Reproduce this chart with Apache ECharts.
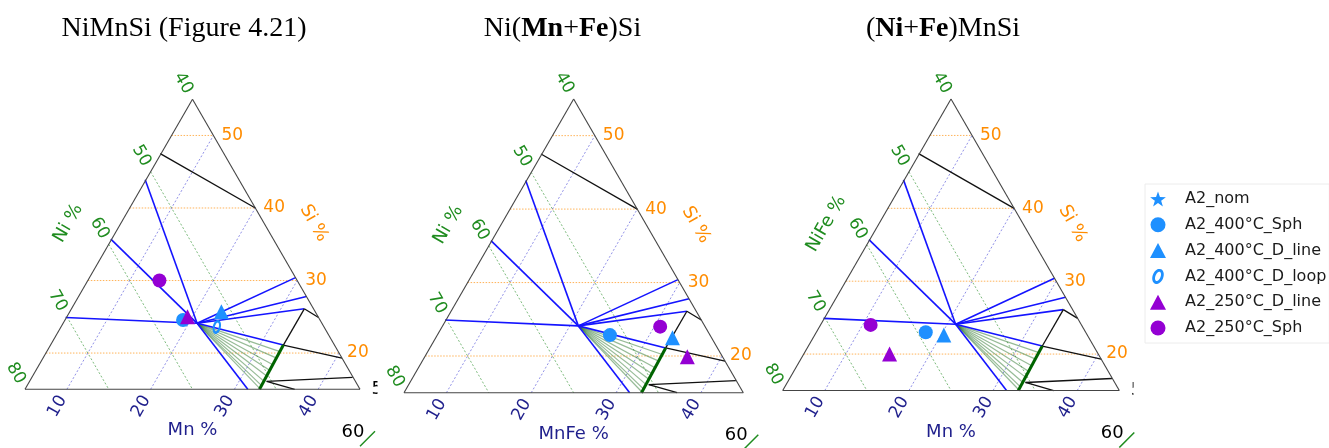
<!DOCTYPE html>
<html><head><meta charset="utf-8">
<script src="https://cdn.jsdelivr.net/npm/echarts@6/dist/echarts.min.js"></script>
<style>html,body{margin:0;padding:0;background:#fff}#c{width:1329px;height:448px}</style>
</head><body><div id="c"></div>
<script>
// ---------------- data (compositions given as [Mn, Si] at.%, Ni = 100 - Mn - Si) ----------------
const LEFT_AXIS_NAMES = ['Ni %', 'Ni %', 'NiFe %'];
const BOTTOM_AXIS_NAMES = ['Mn %', 'MnFe %', 'Mn %'];
const RIGHT_AXIS_NAME = 'Si %';
const SI_TICKS = [20, 30, 40, 50];
const NI_TICKS = [40, 50, 60, 70, 80];
const MN_TICKS = [10, 20, 30, 40];
const SERIES_NAMES = ['A2_nom', 'A2_400°C_Sph', 'A2_400°C_D_line', 'A2_400°C_D_loop', 'A2_250°C_D_line', 'A2_250°C_Sph'];

const HUB = [21.0, 24.1];
const BLUE_TIE_ENDS = [[4.9, 24.9], [4.9, 35.7], [4.9, 43.9], [31.6, 15.0], [29.6, 30.4], [32.2, 27.8], [32.8, 26.1], [32.8, 21.1]];
const FAN_ENDS = [[32.85, 20.2], [32.9, 19.3], [32.9, 18.4], [32.95, 17.6], [33.0, 16.8], [33.0, 16.1], [33.0, 15.5], [33.0, 15.1]];
const BLACK_LINES = [
  [[4.9, 47.5], [20.0, 40.0]],
  [[32.8, 26.1], [35.1, 24.9]],
  [[32.8, 26.1], [32.8, 21.1]],
  [[32.8, 21.1], [40.7, 19.3]],
  [[33.3, 16.1], [43.3, 16.65]],
  [[33.3, 16.1], [37.2, 15.0]]
];
const GREEN_BOUNDARY = [[32.8, 21.1], [33.0, 15.0]];

// markers per panel: [panel0, panel1, panel2]
const A2_NOM = [[], [], []];
const A2_400_SPH = [[[19.1, 24.55]], [[25.35, 22.85]], [[18.0, 23.0]]];
const A2_400_DLINE = [[[23.1, 25.7]], [[32.9, 22.5]], [[20.35, 22.6]]];
const A2_400_DLOOP = [[[23.6, 23.6]], [], []];
const A2_250_DLINE = [[[19.4, 25.0]], [[35.95, 19.9]], [[15.2, 20.0]]];
const A2_250_SPH = [[[13.55, 30.0]], [[30.7, 24.0]], [[10.95, 24.0]]];

// ---------------- layout / helpers ----------------
const H = Math.sqrt(3) / 2;
const xy = c => [c[0] + c[1] / 2, c[1] * H];
const PANELS = [
  { left: 25, top: 99.2, width: 335, titleX: 184 },
  { left: 404, top: 98.9, width: 339.3, titleX: 562.5 },
  { left: 782.7, top: 99.0, width: 336.6, titleX: 943 }
];
const STY = {
  si: { stroke: 'rgba(255,140,0,0.65)', lineWidth: 1, lineDash: [1.5, 1.5] },
  ni: { stroke: 'rgba(34,139,34,0.65)', lineWidth: 0.9, lineDash: [2, 2] },
  mn: { stroke: 'rgba(50,50,210,0.6)', lineWidth: 0.9, lineDash: [2, 2] },
  fan: { stroke: 'rgba(46,120,46,0.5)', lineWidth: 1.2 },
  tie: { stroke: '#1414ff', lineWidth: 1.6 },
  black: { stroke: '#111', lineWidth: 1.3 },
  green: { stroke: '#006400', lineWidth: 3 },
  frame: { stroke: '#444', lineWidth: 1.1 }
};

const segs = [];
const seg = (a, b, s) => segs.push({ a, b, s });
SI_TICKS.forEach(si => seg([5, si], [60 - si, si], 'si'));
NI_TICKS.filter(n => n > 40 && n < 80).forEach(ni => seg([5, 95 - ni], [85 - ni, 15], 'ni'));
MN_TICKS.forEach(mn => seg([mn, 15], [mn, 60 - mn], 'mn'));
FAN_ENDS.forEach(e => seg(HUB, e, 'fan'));
BLUE_TIE_ENDS.forEach(e => seg(HUB, e, 'tie'));
BLACK_LINES.forEach(l => seg(l[0], l[1], 'black'));
seg(GREEN_BOUNDARY[0], GREEN_BOUNDARY[1], 'green');
seg([5, 15], [45, 15], 'frame'); seg([45, 15], [5, 55], 'frame'); seg([5, 55], [5, 15], 'frame');

const GREEN = '#1f8c1f', ORANGE = '#ff8c00', NAVY = '#1f1f8c';
const KIND = {
  ni: { dx: -9.25, dy: -16, rot: -Math.PI / 3, fill: GREEN, align: 'center', size: 17 },
  si: { dx: 8, dy: 0, rot: 0, fill: ORANGE, align: 'left', size: 17 },
  mn: { dx: -9.5, dy: 17, rot: Math.PI / 3, fill: NAVY, align: 'center', size: 17 },
  niT: { dx: -40.5, dy: -21, rot: Math.PI / 3, fill: GREEN, align: 'center', size: 18 },
  siT: { dx: 37.5, dy: -21, rot: -Math.PI / 3, fill: ORANGE, align: 'center', size: 18 },
  mnT: { dx: 0, dy: 41.5, rot: 0, fill: NAVY, align: 'center', size: 18 },
  s60: { dx: -7, dy: 43, rot: 0, fill: '#000', align: 'center', size: 18 },
  s5: { dx: 11.5, dy: 0, rot: 0, fill: '#000', align: 'left', size: 18 }
};
function panelLabels(i) {
  const L = [];
  NI_TICKS.forEach(ni => L.push({ c: [5, 95 - ni], t: String(ni), k: 'ni' }));
  SI_TICKS.forEach(si => L.push({ c: [60 - si, si], t: String(si), k: 'si' }));
  MN_TICKS.forEach(mn => L.push({ c: [mn, 15], t: String(mn), k: 'mn' }));
  L.push({ c: [5, 35], t: LEFT_AXIS_NAMES[i], k: 'niT' });
  L.push({ c: [25, 35], t: RIGHT_AXIS_NAME, k: 'siT' });
  L.push({ c: [25, 15], t: BOTTOM_AXIS_NAMES[i], k: 'mnT' });
  L.push({ c: [45, 15], t: '60', k: 's60' });
  L.push({ c: [45, 15], t: '', k: 'slash' });
  if (i !== 1) L.push({ c: [45, 15], t: '5', k: 's5' });
  return L;
}

function starPath() {
  const p = [];
  for (let k = 0; k < 10; k++) {
    const r = k % 2 ? 4 : 10, a = -Math.PI / 2 + k * Math.PI / 5;
    p.push((k ? 'L' : 'M') + (r * Math.cos(a)).toFixed(2) + ',' + (r * Math.sin(a)).toFixed(2));
  }
  return 'path://' + p.join(' ') + ' Z';
}
function ringPath() {
  const rot = 22 * Math.PI / 180, n = 36;
  const pt = (a, rx, ry) => { const x = rx * Math.cos(a), y = ry * Math.sin(a); return [x * Math.cos(rot) - y * Math.sin(rot), x * Math.sin(rot) + y * Math.cos(rot)]; };
  let s = '';
  for (let k = 0; k <= n; k++) { const q = pt(2 * Math.PI * k / n, 4.4, 6.4); s += (k ? 'L' : 'M') + q[0].toFixed(2) + ',' + q[1].toFixed(2) + ' '; }
  s += 'Z ';
  for (let k = 0; k <= n; k++) { const q = pt(-2 * Math.PI * k / n, 2.1, 4.0); s += (k ? 'L' : 'M') + q[0].toFixed(2) + ',' + q[1].toFixed(2) + ' '; }
  return 'path://' + s + 'Z';
}

const BLUE = '#1e90ff', PURPLE = '#9400d3';
const MARKERS = [
  { name: SERIES_NAMES[0], data: A2_NOM, symbol: starPath(), size: 16, color: BLUE },
  { name: SERIES_NAMES[1], data: A2_400_SPH, symbol: 'circle', size: 14, color: BLUE },
  { name: SERIES_NAMES[2], data: A2_400_DLINE, symbol: 'triangle', size: 15, color: BLUE },
  { name: SERIES_NAMES[3], data: A2_400_DLOOP, symbol: ringPath(), size: [11, 14], color: BLUE },
  { name: SERIES_NAMES[4], data: A2_250_DLINE, symbol: 'triangle', size: 15, color: PURPLE },
  { name: SERIES_NAMES[5], data: A2_250_SPH, symbol: 'circle', size: 14, color: PURPLE }
];

const series = [];
PANELS.forEach((p, i) => {
  series.push({
    type: 'custom', xAxisIndex: i, yAxisIndex: i, silent: true, z: 1, clip: false,
    data: segs.map(s => [...xy(s.a), ...xy(s.b)]),
    renderItem: (params, api) => {
      const s = segs[params.dataIndex];
      const p1 = api.coord([api.value(0), api.value(1)]);
      const p2 = api.coord([api.value(2), api.value(3)]);
      return { type: 'line', shape: { x1: p1[0], y1: p1[1], x2: p2[0], y2: p2[1] }, style: Object.assign({ fill: null }, STY[s.s]) };
    }
  });
  const labs = panelLabels(i);
  series.push({
    type: 'custom', xAxisIndex: i, yAxisIndex: i, silent: true, z: 4, clip: false,
    data: labs.map(l => xy(l.c)),
    renderItem: (params, api) => {
      const l = labs[params.dataIndex];
      const q = api.coord([api.value(0), api.value(1)]);
      if (l.k === 'slash') {
        return { type: 'line', shape: { x1: q[0], y1: q[1] + 57, x2: q[0] + 15, y2: q[1] + 42 }, style: { stroke: '#1f8c1f', lineWidth: 1.5 } };
      }
      const k = KIND[l.k];
      return {
        type: 'text', x: q[0] + k.dx, y: q[1] + k.dy, rotation: k.rot,
        style: { text: l.t, fill: k.fill, font: k.size + 'px "DejaVu Sans"', align: k.align, verticalAlign: 'middle' }
      };
    }
  });
  MARKERS.forEach(m => {
    series.push({
      type: 'scatter', name: m.name, xAxisIndex: i, yAxisIndex: i, z: 3,
      symbol: m.symbol, symbolSize: m.size, symbolKeepAspect: true,
      itemStyle: { color: m.color, opacity: 1 },
      data: m.data[i].map(xy)
    });
  });
});

const titleFont = { fontFamily: '"Liberation Serif","Times New Roman",serif', fontSize: 28, fill: '#000' };
const TITLES = ['NiMnSi (Figure 4.21)', 'Ni({b|Mn}+{b|Fe})Si', '({b|Ni}+{b|Fe})MnSi'];

const option = {
  animation: false,
  backgroundColor: '#fff',
  grid: PANELS.map(p => ({ left: p.left, top: p.top, width: p.width, height: p.width * H })),
  xAxis: PANELS.map((p, i) => ({ type: 'value', gridIndex: i, min: 12.5, max: 52.5, show: false })),
  yAxis: PANELS.map((p, i) => ({ type: 'value', gridIndex: i, min: 15 * H, max: 55 * H, show: false })),
  legend: {
    orient: 'vertical', left: 1145, top: 184, padding: [7, 3, 7, 5],
    itemWidth: 16, itemHeight: 15, itemGap: 9.8,
    borderColor: '#ececec', borderWidth: 1, backgroundColor: '#fff',
    selectedMode: false,
    textStyle: { fontFamily: 'DejaVu Sans', fontSize: 16, color: '#1a1a1a', padding: [0, 0, 0, 14] },
    data: SERIES_NAMES
  },
  graphic: [
    ...PANELS.map((p, i) => ({
      type: 'text', x: p.titleX, y: 29, z: 10,
      style: Object.assign({
        text: TITLES[i], align: 'center', verticalAlign: 'middle',
        rich: { b: { fontFamily: titleFont.fontFamily, fontSize: 28, fontWeight: 'bold', fill: '#000' } }
      }, titleFont)
    })),
    { type: 'rect', shape: { x: 377.5, y: 372, width: 6, height: 30 }, style: { fill: '#fff' }, z: 100 },
    { type: 'rect', shape: { x: 1133.5, y: 372, width: 10, height: 30 }, style: { fill: '#fff' }, z: 100 }
  ],
  series
};
const chart = echarts.init(document.getElementById('c'));
chart.setOption(option);
</script></body></html>
